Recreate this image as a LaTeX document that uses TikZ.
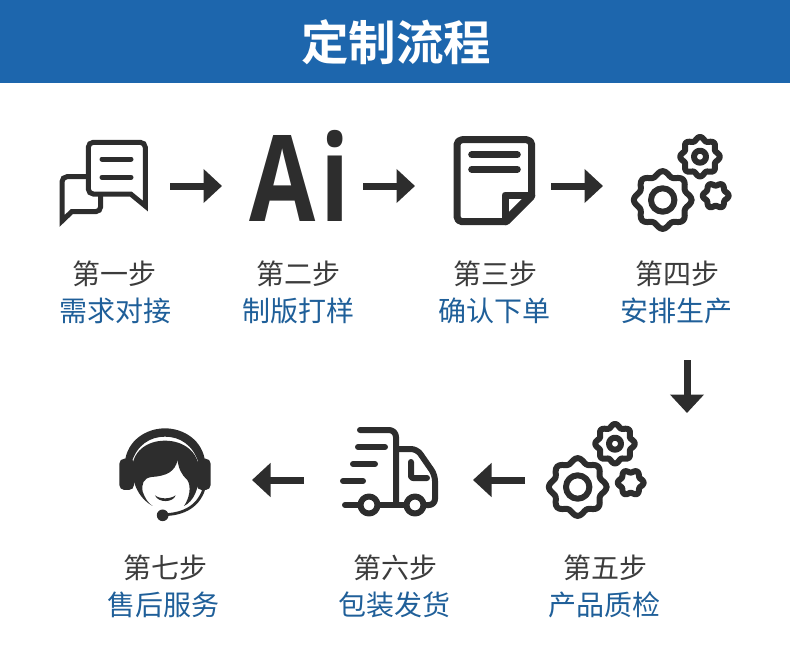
\documentclass[tikz,border=0pt]{standalone}
\usepackage{fontspec}
\usetikzlibrary{arrows.meta}
\setmainfont{Noto Sans CJK SC}[BoldFont={Noto Sans CJK SC Bold}]
\newfontfamily\aifont{Open Sans}[BoldFont={Open Sans Bold}]
\definecolor{banner}{HTML}{1D66AD}
\definecolor{ink}{HTML}{2D2D2D}
\definecolor{steptext}{HTML}{3C3C3C}
\definecolor{bluetext}{HTML}{1F5F99}
\tikzset{
  flowarrow/.style={ink,line width=7pt,-{Triangle[length=18.5pt,width=33pt]}},
  icon/.style={ink,line width=6pt,line cap=round,line join=round},
  steplabel/.style={text=steptext,font=\fontsize{28}{30}\selectfont,inner sep=0pt},
  actionlabel/.style={text=bluetext,font=\fontsize{28}{30}\selectfont,inner sep=0pt},
}
\newcommand{\gearshape}[5]{% cx cy R a n
  \draw[icon] plot[smooth cycle,domain=0:355,samples=72] ({#1+(#3+#4*cos(#5*\x))*cos(\x)},{#2+(#3+#4*cos(#5*\x))*sin(\x)});
}
\newcommand{\gearset}{%
  \gearshape{662.7}{200}{26.5}{2.4}{8}
  \draw[icon] (662.7,200) circle (11.7);
  \gearshape{700}{156.7}{18}{1.8}{8}
  \draw[icon] (700,156.7) circle (6);
  \gearshape{715.7}{195.7}{11.5}{1.4}{6}
}
\begin{document}
\begin{tikzpicture}[x=1pt,y=-1pt]
\useasboundingbox (0,0) rectangle (790,656);
\fill[banner] (0,0) rectangle (790,83);
\node[text=white,font=\fontsize{47.5}{50}\selectfont\bfseries,inner sep=0pt] (title) at (396,42) {定制流程};

% chat icon
\begin{scope}[ink,line width=5pt,line join=miter,line cap=butt]
\draw (112,142.3) [rounded corners=5pt] -- (145.3,142.3) -- (145.3,185) [sharp corners] -- (145.3,206) -- (130.7,194) -- (105,194) [rounded corners=5pt] -- (88.3,194) -- (88.3,142.3) -- cycle;
\draw[line cap=round] (102,159) -- (131,159) (102,177.3) -- (131,177.3);
\draw (86,176.7) [rounded corners=5pt] -- (62,176.7) -- (62,200) [sharp corners] -- (62,221) -- (71.7,211.7) -- (85,211.7) [rounded corners=5pt] -- (100.7,211.7) -- (100.7,195);
\end{scope}

% Ai
\node[text=ink,anchor=base west,inner sep=0pt,font=\aifont\bfseries\fontsize{120}{120}\selectfont,xscale=0.8] (ai) at (249,221) {A\kern7pt i};

% note icon
\draw[icon,line width=7pt,rounded corners=5pt] (505,221.7) -- (457,221.7) -- (457,139.7) -- (531.7,139.7) -- (531.7,195);
\draw[icon,line width=7pt] (531.7,195) -- (505,195) -- (505,221.7);
\draw[icon,line width=8.5pt] (531,196) -- (506,221);
\draw[icon,line width=7pt] (471.7,154.7) -- (517.3,154.7) (471.7,169.3) -- (517.3,169.3);

% gears
\gearset
\begin{scope}[shift={(-85,287)}]
\gearset
\end{scope}

% truck
\begin{scope}[icon,line width=6pt]
\draw[rounded corners=7pt] (360,430) -- (396,430) -- (396,503);
\draw[rounded corners=6pt] (396,449) -- (417,449) -- (435,475) -- (435,505) -- (425,505);
\draw[rounded corners=2pt] (411,462) -- (411,478) -- (427,478);
\draw (358,447) -- (385,447) (353,464) -- (375,464) (343,481) -- (363,481) (345,505) -- (358,505) (380,505) -- (405,505);
\draw[fill=white] (369,505) circle (8.5) (415,505) circle (8.5);
\end{scope}

% person
\begin{scope}[shift={(110,420)},x=0.3333pt,y=-0.3333pt]
\fill[ink] (44,130) .. controls (50,60) and (110,25) .. (165,25) .. controls (220,25) and (280,60) .. (286,130) -- (266,130) .. controls (250,75) and (210,50) .. (165,50) .. controls (120,50) and (80,75) .. (64,130) -- cycle;
\fill[ink,rounded corners=5pt] (28,116) rectangle (72,210);
\fill[ink,rounded corners=5pt] (260,116) rectangle (302,210);
\fill[ink] (128,258) .. controls (95,240) and (70,205) .. (66,150) .. controls (66,95) and (110,62) .. (165,62) .. controls (220,62) and (266,95) .. (267,150) .. controls (270,205) and (250,245) .. (222,258) .. controls (238,235) and (245,200) .. (232,180) .. controls (215,165) and (205,145) .. (203,120) .. controls (195,155) and (170,168) .. (125,171) .. controls (100,174) and (94,192) .. (98,215) .. controls (105,235) and (115,250) .. (128,258) -- cycle;
\fill[ink] (135,226) .. controls (150,238) and (180,238) .. (197,226) .. controls (190,248) and (145,250) .. (135,226) -- cycle;
\draw[ink,line width=2.8pt,line cap=round] (165,284) .. controls (220,282) and (270,260) .. (285,195);
\fill[ink] (158,286) circle (17.5);
\end{scope}

% arrows
\coordinate (a1s) at (170,186); \coordinate (a1e) at (222,186);
\coordinate (a2s) at (363,186); \coordinate (a2e) at (415,186);
\coordinate (a3s) at (551,186); \coordinate (a3e) at (603,186);
\coordinate (a4s) at (687,360); \coordinate (a4e) at (687,413);
\coordinate (a5s) at (525,480); \coordinate (a5e) at (473,480);
\coordinate (a6s) at (304,480); \coordinate (a6e) at (252,480);
\draw[flowarrow] (a1s) -- (a1e);
\draw[flowarrow] (a2s) -- (a2e);
\draw[flowarrow] (a3s) -- (a3e);
\draw[flowarrow] (a4s) -- (a4e);
\draw[flowarrow] (a5s) -- (a5e);
\draw[flowarrow] (a6s) -- (a6e);

% labels
\node[steplabel] (s1) at (114.5,274) {第一步};
\node[actionlabel] (t1) at (115,311) {需求对接};
\node[steplabel] (s2) at (298,274) {第二步};
\node[actionlabel] (t2) at (298,311) {制版打样};
\node[steplabel] (s3) at (495,274) {第三步};
\node[actionlabel] (t3) at (494,311) {确认下单};
\node[steplabel] (s4) at (677,274) {第四步};
\node[actionlabel] (t4) at (676,311) {安排生产};
\node[steplabel] (s5) at (605,568) {第五步};
\node[actionlabel] (t5) at (604,605) {产品质检};
\node[steplabel] (s6) at (395,568) {第六步};
\node[actionlabel] (t6) at (394,605) {包装发货};
\node[steplabel] (s7) at (165,568) {第七步};
\node[actionlabel] (t7) at (163,605) {售后服务};
\end{tikzpicture}
\end{document}
